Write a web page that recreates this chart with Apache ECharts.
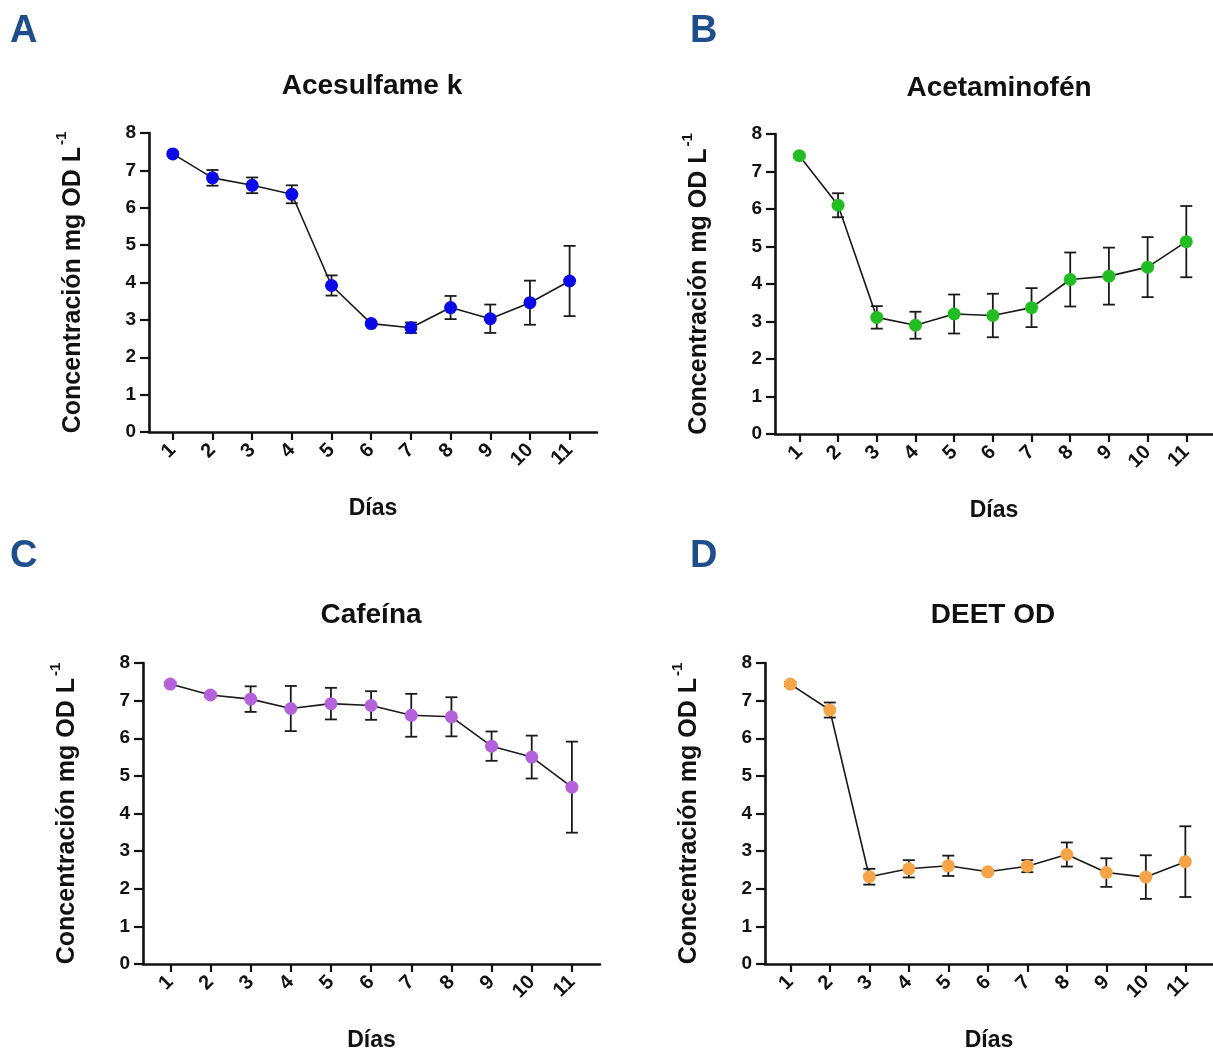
<!DOCTYPE html>
<html>
<head>
<meta charset="utf-8">
<script src="https://cdn.jsdelivr.net/npm/echarts@6/dist/echarts.min.js"></script>
<style>
html,body{margin:0;padding:0;background:#fff;}
#c{width:1213px;height:1053px;}
</style>
</head>
<body>
<div id="c"></div>
<script>
const days = [1, 2, 3, 4, 5, 6, 7, 8, 9, 10, 11];
const yTicks = [0, 1, 2, 3, 4, 5, 6, 7, 8];

const panelLetters = ['A', 'B', 'C', 'D'];
const panelTitles = ['Acesulfame k', 'Acetaminofén', 'Cafeína', 'DEET OD'];
const xAxisTitle = 'Días';
const yAxisTitle = 'Concentración mg OD L';
const yAxisSup = '-1';

const aceMean = [7.44, 6.80, 6.60, 6.36, 3.92, 2.90, 2.79, 3.33, 3.03, 3.46, 4.04];
const aceErr  = [0.05, 0.21, 0.21, 0.24, 0.27, 0.05, 0.14, 0.31, 0.38, 0.59, 0.94];

const acetMean = [7.42, 6.10, 3.11, 2.90, 3.20, 3.16, 3.37, 4.12, 4.21, 4.45, 5.13];
const acetErr  = [0.05, 0.32, 0.30, 0.36, 0.52, 0.58, 0.52, 0.72, 0.76, 0.80, 0.95];

const cafMean = [7.44, 7.15, 7.04, 6.79, 6.92, 6.87, 6.61, 6.57, 5.79, 5.50, 4.70];
const cafErr  = [0.05, 0.05, 0.34, 0.60, 0.42, 0.38, 0.57, 0.52, 0.39, 0.57, 1.21];

const deetMean = [7.44, 6.75, 2.32, 2.53, 2.61, 2.45, 2.60, 2.91, 2.43, 2.31, 2.72];
const deetErr  = [0.05, 0.20, 0.21, 0.23, 0.27, 0.05, 0.16, 0.32, 0.38, 0.58, 0.94];

const colors = ['#0a0ae6', '#22bd22', '#b462dc', '#f5a548'];

const means = [aceMean, acetMean, cafMean, deetMean];
const errs = [aceErr, acetErr, cafErr, deetErr];

// layout (pixels)
const grids = [
  {left: 149, top: 133, width: 448, height: 299, xmin: 0.40, xmax: 11.69},
  {left: 775, top: 134, width: 449, height: 300, xmin: 0.37, xmax: 11.69},
  {left: 143, top: 663, width: 457, height: 304, xmin: 0.32, xmax: 11.70},
  {left: 765, top: 663, width: 456, height: 304, xmin: 0.36, xmax: 11.70}
];
const titlePos = [[372, 72], [999, 74], [371, 601], [993, 601]];
const letterPos = [[10, 13], [690, 13], [10, 538], [690, 538]];

const FONT = '"Liberation Sans", Arial, Helvetica, sans-serif';
const INK = '#111';

const option = {
  backgroundColor: '#ffffff',
  animation: false,
  title: [],
  grid: [],
  xAxis: [],
  yAxis: [],
  series: []
};

for (let p = 0; p < 4; p++) {
  const g = grids[p];
  option.grid.push({left: g.left, top: g.top, width: g.width, height: g.height, containLabel: false});
  option.title.push({
    text: panelTitles[p], left: titlePos[p][0], top: titlePos[p][1], textAlign: 'center', padding: 0,
    textStyle: {fontFamily: FONT, fontWeight: 'bold', fontSize: 28, color: INK}
  });
  option.title.push({
    text: panelLetters[p], left: letterPos[p][0], top: letterPos[p][1], padding: 0,
    textStyle: {fontFamily: FONT, fontWeight: 'bold', fontSize: 38, color: '#1f4e8c'}
  });
  option.xAxis.push({
    type: 'value', gridIndex: p, min: g.xmin, max: g.xmax,
    name: xAxisTitle, nameLocation: 'middle', nameGap: 65,
    nameTextStyle: {fontFamily: FONT, fontWeight: 'bold', fontSize: 23, color: INK},
    splitLine: {show: false},
    axisLine: {onZero: false, lineStyle: {color: INK, width: 2.6}},
    axisTick: {show: true, inside: false, length: 8, lineStyle: {color: INK, width: 2.2}, customValues: days},
    axisLabel: {
      customValues: days, rotate: 45, margin: 15,
      fontFamily: FONT, fontWeight: 'bold', fontSize: 20, color: INK,
      formatter: v => String(v)
    }
  });
  option.yAxis.push({
    type: 'value', gridIndex: p, min: 0, max: 8, interval: 1,
    name: '{m|' + yAxisTitle + '}{s|' + yAxisSup + '}',
    nameLocation: 'middle', nameRotate: 90, nameGap: 63,
    nameTextStyle: {
      fontFamily: FONT, fontWeight: 'bold', color: INK,
      rich: {
        m: {fontFamily: FONT, fontWeight: 'bold', fontSize: 25, color: INK, lineHeight: 32, verticalAlign: 'bottom'},
        s: {fontFamily: FONT, fontWeight: 'bold', fontSize: 15, color: INK, lineHeight: 32, verticalAlign: 'top', padding: [0, 0, 0, 2]}
      }
    },
    splitLine: {show: false},
    axisLine: {show: true, onZero: false, lineStyle: {color: INK, width: 2.6}},
    axisTick: {show: true, inside: false, length: 9, lineStyle: {color: INK, width: 2.2}},
    axisLabel: {margin: 13, fontFamily: FONT, fontWeight: 'bold', fontSize: 19, color: INK,
      formatter: v => String(yTicks[Math.round(v)])}
  });

  const m = means[p], e = errs[p];
  option.series.push({
    type: 'custom', xAxisIndex: p, yAxisIndex: p, z: 2, silent: true,
    data: days.map((d, i) => [d, m[i] - e[i], m[i] + e[i]]),
    renderItem: function (params, api) {
      const x = api.value(0);
      const lo = api.coord([x, api.value(1)]);
      const hi = api.coord([x, api.value(2)]);
      const hw = 6;
      const st = {stroke: '#1a1a1a', lineWidth: 1.8};
      return {type: 'group', children: [
        {type: 'line', shape: {x1: lo[0], y1: lo[1], x2: hi[0], y2: hi[1]}, style: st},
        {type: 'line', shape: {x1: hi[0] - hw, y1: hi[1], x2: hi[0] + hw, y2: hi[1]}, style: st},
        {type: 'line', shape: {x1: lo[0] - hw, y1: lo[1], x2: lo[0] + hw, y2: lo[1]}, style: st}
      ]};
    }
  });
  option.series.push({
    type: 'line', xAxisIndex: p, yAxisIndex: p, z: 3, silent: true,
    data: days.map((d, i) => [d, m[i]]),
    symbol: 'circle', symbolSize: 13,
    itemStyle: {color: colors[p], borderWidth: 0},
    lineStyle: {color: '#1a1a1a', width: 1.6}
  });
}

const chart = echarts.init(document.getElementById('c'), null, {renderer: 'canvas'});
chart.setOption(option);
</script>
</body>
</html>
